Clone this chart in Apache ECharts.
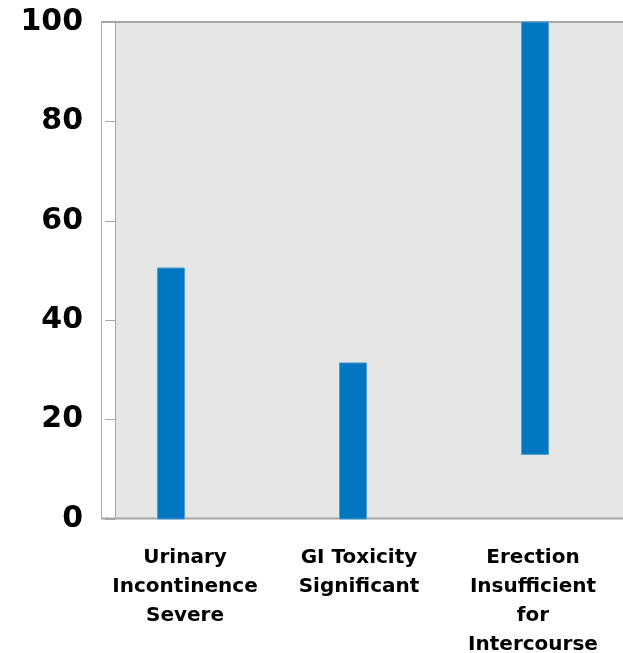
<!DOCTYPE html>
<html>
<head>
<meta charset="utf-8">
<script src="https://cdn.jsdelivr.net/npm/echarts@6/dist/echarts.min.js"></script>
<style>
  html, body { margin: 0; padding: 0; background: #ffffff; }
  #chart { width: 623px; height: 653px; }
</style>
</head>
<body>
<div id="chart"></div>
<script>
// Outcome categories along the horizontal axis
const categories = [
  'Urinary\nIncontinence\nSevere',
  'GI Toxicity\nSignificant',
  'Erection\nInsufficient\nfor\nIntercourse'
];
// Lower and upper end of each range bar (percent)
const lowValues = [0, 0, 13];
const highValues = [50.5, 31.4, 100];
// Value axis range and step
const yMin = 0;
const yMax = 100;
const yStep = 20;

const chart = echarts.init(document.getElementById('chart'), null, { renderer: 'canvas' });

const frameColor = '#a6a6a6';
const labelFont = 'DejaVu Sans';

const rangeData = categories.map((c, i) => [i, lowValues[i], highValues[i]]);

const hiddenY = (gi) => ({
  type: 'value', gridIndex: gi, min: yMin, max: yMax, interval: yStep, show: false
});

const option = {
  animation: false,
  backgroundColor: '#ffffff',
  grid: [
    // shaded plotting panel with the value axis
    { left: 115, right: 0, top: 22, bottom: 134, show: true, backgroundColor: '#e6e6e6', borderWidth: 0, outerBoundsMode: 'none', containLabel: false },
    // band layout for the range bars
    { left: 80, right: -3, top: 22, bottom: 134, outerBoundsMode: 'none', containLabel: false },
    // band layout for the category captions
    { left: 98, right: 3, top: 22, bottom: 134, outerBoundsMode: 'none', containLabel: false }
  ],
  xAxis: [
    { type: 'category', gridIndex: 0, data: categories, show: false },
    { type: 'category', gridIndex: 1, data: categories, show: false },
    {
      type: 'category', gridIndex: 2, data: categories,
      axisLine: { show: false }, axisTick: { show: false }, splitLine: { show: false },
      axisLabel: {
        interval: 0, margin: 24, color: '#000000',
        fontFamily: labelFont, fontWeight: 'bold', fontSize: 20, lineHeight: 29, align: 'center'
      }
    }
  ],
  yAxis: [
    {
      type: 'value', gridIndex: 0, min: yMin, max: yMax, interval: yStep,
      axisLine: { show: true, lineStyle: { color: frameColor, width: 1 } },
      axisTick: { show: true, inside: false, length: 10, lineStyle: { color: frameColor, width: 1 } },
      splitLine: { show: false },
      axisLabel: {
        margin: 32, color: '#000000',
        fontFamily: labelFont, fontWeight: 'bold', fontSize: 30
      }
    },
    hiddenY(1),
    hiddenY(2)
  ],
  series: [
    {
      type: 'custom',
      xAxisIndex: 1,
      yAxisIndex: 1,
      encode: { x: 0, y: [1, 2] },
      data: rangeData,
      renderItem: function (params, api) {
        const idx = api.value(0);
        const lo = api.coord([idx, api.value(1)]);
        const hi = api.coord([idx, api.value(2)]);
        const w = 27;
        return {
          type: 'rect',
          shape: { x: lo[0] - w / 2, y: hi[1], width: w, height: lo[1] - hi[1] },
          style: { fill: '#0077c0', stroke: '#4f9fd6', lineWidth: 1 }
        };
      }
    }
  ],
  graphic: [
    // outer frame around the panel
    {
      type: 'group', z: 100, children: [
        { type: 'line', shape: { x1: 101, y1: 22, x2: 623, y2: 22 }, style: { stroke: frameColor, lineWidth: 2 } },
        { type: 'line', shape: { x1: 101, y1: 518.5, x2: 623, y2: 518.5 }, style: { stroke: frameColor, lineWidth: 2 } },
        { type: 'line', shape: { x1: 101.5, y1: 21, x2: 101.5, y2: 519 }, style: { stroke: frameColor, lineWidth: 1 } }
      ]
    }
  ]
};

chart.setOption(option);
</script>
</body>
</html>
